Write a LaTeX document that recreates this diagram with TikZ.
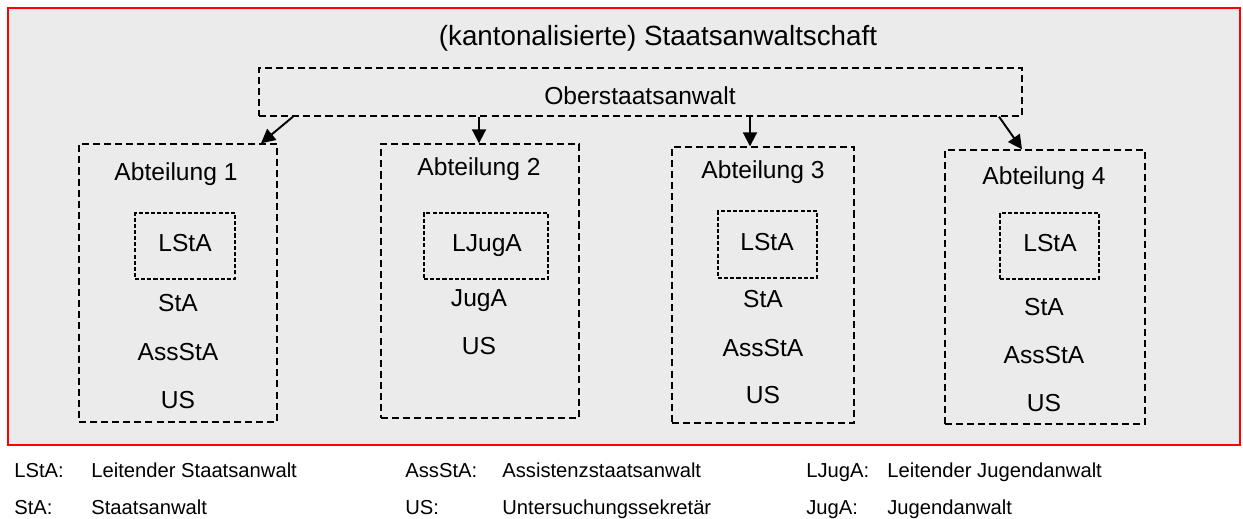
\documentclass[tikz,border=0pt]{standalone}
\usepackage{fontspec}
\setmainfont{Liberation Sans}
\usetikzlibrary{arrows.meta}
\definecolor{hellgrau}{HTML}{EBEBEB}
\definecolor{rahmenrot}{HTML}{FF0000}
\tikzset{
  rahmen/.style={draw=rahmenrot, line width=1.2pt, fill=hellgrau, inner sep=0pt},
  abteilung/.style={draw, line width=0.8pt, dash pattern=on 4pt off 2.3pt, inner sep=0pt},
  leitung/.style={draw, line width=0.9pt, dash pattern=on 2.3pt off 1.2pt, inner sep=0pt},
  txt/.style={anchor=base, inner sep=0pt, font=\fontsize{14}{16}\selectfont},
  legende/.style={anchor=base west, inner sep=0pt, font=\fontsize{11.5}{13}\selectfont},
  pfeil/.style={-{Triangle[length=8pt,width=8pt]}, line width=1.1pt},
}
\begin{document}
\begin{tikzpicture}[x=0.02cm, y=-0.02cm]
    \useasboundingbox (0,0) rectangle (1243,519);
    \node[rahmen, minimum width=24.64cm, minimum height=8.74cm] (amt) at (624,226.5) {};
    \node[txt, font=\fontsize{15.8}{18}\selectfont] (titel) at (658,46) {(kantonalisierte) Staatsanwaltschaft};
    \node[abteilung, minimum width=15.26cm, minimum height=0.96cm] (ober) at (640.5,92) {};
    \node[txt] (obertxt) at (640,105) {Oberstaatsanwalt};

    \node[abteilung, minimum width=3.96cm, minimum height=5.56cm] (abt1) at (178,283) {};
    \node[abteilung, minimum width=3.96cm, minimum height=5.48cm] (abt2) at (480,281) {};
    \node[abteilung, minimum width=3.64cm, minimum height=5.52cm] (abt3) at (763,285) {};
    \node[abteilung, minimum width=4.00cm, minimum height=5.48cm] (abt4) at (1045,287) {};

    \node[leitung, minimum width=2.00cm, minimum height=1.32cm] (leit1) at (185,246) {};
    \node[leitung, minimum width=2.48cm, minimum height=1.32cm] (leit2) at (486,246) {};
    \node[leitung, minimum width=1.98cm, minimum height=1.34cm] (leit3) at (767.5,244.5) {};
    \node[leitung, minimum width=1.98cm, minimum height=1.32cm] (leit4) at (1049.5,246) {};

    \node[txt] (abt1txt) at (176,181) {Abteilung 1};
    \node[txt] (abt2txt) at (479,176) {Abteilung 2};
    \node[txt] (abt3txt) at (763,179) {Abteilung 3};
    \node[txt] (abt4txt) at (1044,185) {Abteilung 4};

    \node[txt] (lsta1) at (185,252) {LStA};
    \node[txt] (sta1) at (178,312) {StA};
    \node[txt] (asssta1) at (178,361) {AssStA};
    \node[txt] (us1) at (178,409) {US};

    \node[txt] (ljuga2) at (487,252) {LJugA};
    \node[txt] (juga2) at (479,307) {JugA};
    \node[txt] (us2) at (479,355) {US};

    \node[txt] (lsta3) at (767,251) {LStA};
    \node[txt] (sta3) at (763,308) {StA};
    \node[txt] (asssta3) at (763,357) {AssStA};
    \node[txt] (us3) at (763,404) {US};

    \node[txt] (lsta4) at (1050,252) {LStA};
    \node[txt] (sta4) at (1044,316) {StA};
    \node[txt] (asssta4) at (1044,364) {AssStA};
    \node[txt] (us4) at (1044,412) {US};

    \draw[pfeil] (ober.south -| 293,0) -- (abt1.north -| 261,0);
    \draw[pfeil] (ober.south -| 479,0) -- (abt2.north -| 479,0);
    \draw[pfeil] (ober.south -| 750,0) -- (abt3.north -| 750,0);
    \draw[pfeil] (ober.south -| 999,0) -- (abt4.north -| 1022,0);

    \node[legende] (lg1a) at (14,478) {LStA:};
    \node[legende] (lg1b) at (91,478) {Leitender Staatsanwalt};
    \node[legende] (lg2a) at (405,478) {AssStA:};
    \node[legende] (lg2b) at (502,478) {Assistenzstaatsanwalt};
    \node[legende] (lg3a) at (806,478) {LJugA:};
    \node[legende] (lg3b) at (887,478) {Leitender Jugendanwalt};
    \node[legende] (lg4a) at (14,515) {StA:};
    \node[legende] (lg4b) at (91,515) {Staatsanwalt};
    \node[legende] (lg5a) at (405,515) {US:};
    \node[legende] (lg5b) at (502,515) {Untersuchungssekretär};
    \node[legende] (lg6a) at (806,515) {JugA:};
    \node[legende] (lg6b) at (887,515) {Jugendanwalt};
\end{tikzpicture}
\end{document}
